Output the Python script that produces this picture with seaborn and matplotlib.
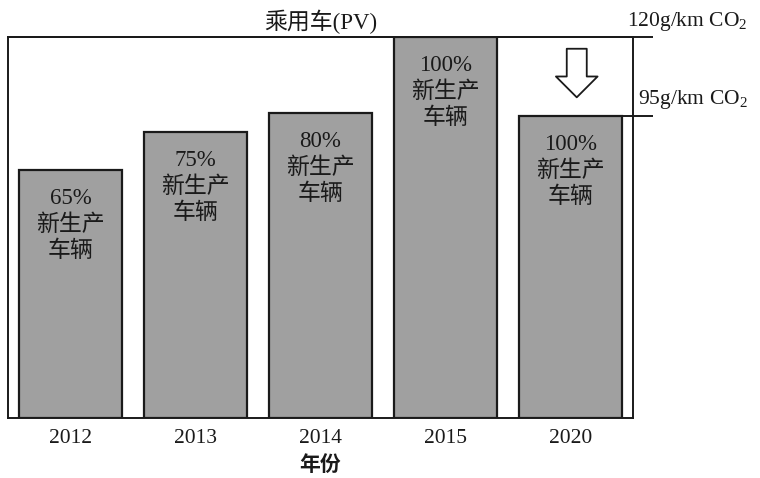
import matplotlib
matplotlib.use("Agg")
import matplotlib.pyplot as plt
import seaborn as sns
import pandas as pd
from matplotlib.patches import FancyArrowPatch

years = ["2012", "2013", "2014", "2015", "2020"]
heights = [78, 90, 96, 120, 95]
shares = ["65%", "75%", "80%", "100%", "100%"]
limit_values = [120, 95]
limit_labels = ["120g/km CO$_2$", "95g/km CO$_2$"]
title = "乘用车(PV)"
xlabel = "年份"
bar_text = "新生产\n车辆"

sns.set_theme(style="white")
plt.rcParams["font.family"] = ["Liberation Serif", "Noto Sans CJK SC", "DejaVu Sans"]
plt.rcParams["mathtext.fontset"] = "custom"
plt.rcParams["mathtext.rm"] = "Liberation Serif"
plt.rcParams["mathtext.it"] = "Liberation Serif"

df = pd.DataFrame({"year": years, "value": heights})

fig = plt.figure(figsize=(7.6, 4.78), dpi=100)
ax = fig.add_axes([8 / 760, 60 / 478, 625 / 760, 381 / 478])

sns.barplot(data=df, x="year", y="value", color="#a0a0a0", saturation=1,
            edgecolor="#1a1a1a", linewidth=1.6, width=0.83, ax=ax)

ax.set_xlim(-0.5, 4.5)
ax.set_ylim(0, 120)
ax.set_yticks([])
ax.set_ylabel("")
ax.tick_params(axis="x", length=0, pad=8, labelsize=15.5, labelcolor="#1a1a1a")
for s in ax.spines.values():
    s.set_visible(True)
    s.set_color("#1a1a1a")
    s.set_linewidth(1.4)

ax.set_xlabel(xlabel, fontsize=15, color="#1a1a1a", labelpad=4,
              family=["Noto Sans CJK SC"], fontweight="bold")
ax.set_title(title, fontsize=16.5, color="#1a1a1a", pad=6,
             family=["Liberation Serif", "Noto Sans CJK SC"])

for i, (h, s) in enumerate(zip(heights, shares)):
    ax.annotate(s + "\n" + bar_text, xy=(i, h), xytext=(0, -13),
                textcoords="offset points", ha="center", va="top",
                fontsize=16.5, color="#1a1a1a", linespacing=1.3,
                family=["Liberation Serif", "Noto Sans CJK SC"])

# limit lines extending outside the axes
ax.hlines(limit_values, xmin=[-0.5, 3.58], xmax=4.66, colors="#1a1a1a",
          linewidth=1.4, clip_on=False)
ax.annotate(limit_labels[0], xy=(4.45, limit_values[0]), xytext=(0, 3),
            textcoords="offset points", ha="left", va="bottom",
            fontsize=15.5, color="#1a1a1a", annotation_clip=False)
ax.annotate(limit_labels[1], xy=(4.54, limit_values[1]), xytext=(0, 4),
            textcoords="offset points", ha="left", va="bottom",
            fontsize=15.5, color="#1a1a1a", annotation_clip=False)

# downward hollow arrow from 120 toward 95
arrow = FancyArrowPatch((4.05, 116.3), (4.05, 101.0),
                        arrowstyle="simple,head_length=0.75,head_width=1.5,tail_width=0.72",
                        mutation_scale=20, facecolor="white", edgecolor="#1a1a1a",
                        linewidth=1.3, shrinkA=0, shrinkB=0, clip_on=False)
ax.add_patch(arrow)

fig.savefig("out.png", dpi=100, facecolor="white")
